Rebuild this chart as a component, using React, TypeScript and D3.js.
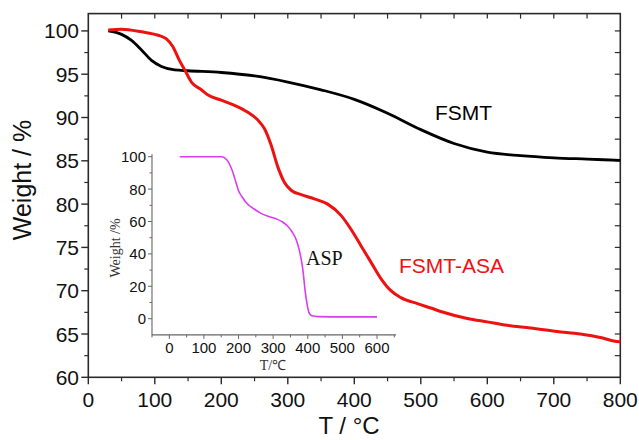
import React from 'react';
import * as d3 from 'd3';

// FSMT (black)
const fsmtT = [30, 50, 65, 80, 95, 110, 130, 150, 200, 250, 300, 350, 400, 450, 500, 550, 600, 650, 700, 750, 800];
const fsmtW = [100.0, 99.6, 98.9, 97.8, 96.6, 95.9, 95.5, 95.4, 95.2, 94.8, 94.1, 93.2, 92.1, 90.5, 88.6, 87.0, 86.0, 85.6, 85.35, 85.2, 85.05];

// FSMT-ASA (red)
const asaT = [30, 50, 80, 105, 117, 127, 137, 145, 155, 170, 180, 200, 220, 240, 255, 265, 275, 285, 295, 305, 320, 340, 360, 380, 395, 410, 425, 440, 455, 470, 495, 515, 530, 570, 600, 630, 665, 705, 740, 770, 790, 800];
const asaW = [100.1, 100.2, 99.9, 99.5, 99.1, 98.2, 96.6, 95.5, 94.1, 93.2, 92.6, 92.0, 91.4, 90.6, 89.7, 88.7, 86.8, 84.3, 82.5, 81.6, 81.1, 80.6, 80.0, 78.7, 77.1, 75.2, 73.3, 71.4, 70.0, 69.2, 68.5, 68.0, 67.6, 66.8, 66.4, 66.0, 65.7, 65.3, 65.0, 64.6, 64.2, 64.1];

// ASP (inset, magenta)
const aspT = [30, 150, 160, 170, 178, 185, 192, 200, 210, 225, 245, 265, 285, 310, 325, 340, 355, 368, 378, 386, 392, 398, 404, 412, 430, 500, 600];
const aspW = [100, 100, 99.3, 97, 93.5, 89.5, 84.5, 79, 75.3, 71, 67.7, 65, 63.2, 61.5, 60, 57.5, 53.5, 48, 40, 30, 18, 9, 3.5, 1.8, 1.3, 1.1, 1.1];

const xTicks = [0, 100, 200, 300, 400, 500, 600, 700, 800];
const yTicks = [60, 65, 70, 75, 80, 85, 90, 95, 100];
const insetXTicks = [0, 100, 200, 300, 400, 500, 600];
const insetYTicks = [0, 20, 40, 60, 80, 100];

export default function App() {
  const W = 639, H = 440;
  const x = d3.scaleLinear().domain([0, 800]).range([88.3, 620.3]);
  const y = d3.scaleLinear().domain([60, 102]).range([377.3, 13.6]);
  const ix = d3.scaleLinear().domain([0, 600]).range([169.3, 377]);
  const iy = d3.scaleLinear().domain([0, 100]).range([318.7, 156.7]);

  const line = d3.line<[number, number]>()
    .x(d => x(d[0])).y(d => y(d[1])).curve(d3.curveMonotoneX);
  const iline = d3.line<[number, number]>()
    .x(d => ix(d[0])).y(d => iy(d[1])).curve(d3.curveMonotoneX);

  const fsmt = fsmtT.map((t, i) => [t, fsmtW[i]] as [number, number]);
  const asa = asaT.map((t, i) => [t, asaW[i]] as [number, number]);
  const asp = aspT.map((t, i) => [t, aspW[i]] as [number, number]);

  const x0 = x(0), x1 = x(800), y0 = y(60), y1 = y(102);
  const axisColor = '#2a2a2a';
  const minorX = d3.range(50, 800, 100);
  const minorY = d3.range(62.5, 101, 5);
  const topTicks = d3.range(50, 800, 50);
  const rightTicks = d3.range(62.5, 101, 2.5);

  const ixMinor = d3.range(-50, 660, 100);
  const iyMinor = d3.range(10, 100, 20);
  const ixL = ix(-50), ixR = ix(655), iyB = iy(-10), iyT = iy(101.5);
  const insetColor = '#666';

  const sans = 'Arial, "Liberation Sans", Helvetica, sans-serif';
  const serif = '"Times New Roman", "Liberation Serif", Times, serif';

  return (
    <svg width={W} height={H} style={{ position: 'absolute', left: 0, top: 0, background: '#fff' }}>
      <rect x={0} y={0} width={W} height={H} fill="#fff" />
      {/* frame */}
      <rect x={x0} y={y1} width={x1 - x0} height={y0 - y1} fill="none" stroke={axisColor} strokeWidth={1.6} />
      {/* bottom ticks */}
      {xTicks.map(t => <line key={'bx' + t} x1={x(t)} x2={x(t)} y1={y0} y2={y0 + 7} stroke={axisColor} strokeWidth={1.4} />)}
      {minorX.map(t => <line key={'bmx' + t} x1={x(t)} x2={x(t)} y1={y0} y2={y0 + 4} stroke={axisColor} strokeWidth={1.2} />)}
      {xTicks.map(t => <text key={'bxl' + t} x={x(t)} y={407} textAnchor="middle" fontFamily={sans} fontSize={21} fill="#111">{t}</text>)}
      {/* top ticks */}
      {topTicks.map(t => <line key={'tx' + t} x1={x(t)} x2={x(t)} y1={y1} y2={y1 + 5} stroke={axisColor} strokeWidth={1.2} />)}
      {/* left ticks */}
      {yTicks.map(t => <line key={'ly' + t} x1={x0 - 7} x2={x0} y1={y(t)} y2={y(t)} stroke={axisColor} strokeWidth={1.4} />)}
      {minorY.map(t => <line key={'lmy' + t} x1={x0 - 4} x2={x0} y1={y(t)} y2={y(t)} stroke={axisColor} strokeWidth={1.2} />)}
      {yTicks.map(t => <text key={'lyl' + t} x={79} y={y(t)} dy="0.36em" textAnchor="end" fontFamily={sans} fontSize={21} fill="#111">{t}</text>)}
      {/* right ticks */}
      {rightTicks.map(t => <line key={'ry' + t} x1={x1 - 5.5} x2={x1} y1={y(t)} y2={y(t)} stroke={axisColor} strokeWidth={1.2} />)}

      {/* axis titles */}
      <text transform={`translate(31,180) rotate(-90)`} textAnchor="middle" fontFamily={sans} fontSize={25} fill="#111">{'Weight  / %'}</text>
      <text x={349} y={434} textAnchor="middle" fontFamily={sans} fontSize={24} fill="#111">{'T / °C'}</text>

      {/* main curves */}
      <path d={line(fsmt) || ''} fill="none" stroke="#000" strokeWidth={2.8} />
      <path d={line(asa) || ''} fill="none" stroke="#ee1111" strokeWidth={3} />

      <text x={435} y={120} fontFamily={sans} fontSize={21} fill="#000">FSMT</text>
      <text x={399} y={273} fontFamily={sans} fontSize={21} fill="#ee1111">FSMT-ASA</text>

      {/* inset axes */}
      <line x1={ixL} x2={ixR} y1={iyB} y2={iyB} stroke={insetColor} strokeWidth={1.1} />
      <line x1={ixL} x2={ixL} y1={iyB} y2={iyT} stroke={insetColor} strokeWidth={1.1} />
      {insetXTicks.map(t => <line key={'ix' + t} x1={ix(t)} x2={ix(t)} y1={iyB} y2={iyB + 4} stroke={insetColor} strokeWidth={1} />)}
      {ixMinor.map(t => <line key={'ixm' + t} x1={ix(t)} x2={ix(t)} y1={iyB} y2={iyB + 2.5} stroke={insetColor} strokeWidth={1} />)}
      {insetXTicks.map(t => <text key={'ixl' + t} x={ix(t)} y={353} textAnchor="middle" fontFamily={sans} fontSize={15} fill="#111">{t}</text>)}
      {insetYTicks.map(t => <line key={'iy' + t} x1={ixL - 4} x2={ixL} y1={iy(t)} y2={iy(t)} stroke={insetColor} strokeWidth={1} />)}
      {iyMinor.map(t => <line key={'iym' + t} x1={ixL - 2.5} x2={ixL} y1={iy(t)} y2={iy(t)} stroke={insetColor} strokeWidth={1} />)}
      {insetYTicks.map(t => <text key={'iyl' + t} x={146} y={iy(t)} dy="0.36em" textAnchor="end" fontFamily={sans} fontSize={15} fill="#111">{t}</text>)}
      <text transform={`translate(120,248) rotate(-90)`} textAnchor="middle" fontFamily={serif} fontSize={14} fill="#333">{'Weight /%'}</text>
      <text x={273} y={370} textAnchor="middle" fontFamily={serif} fontSize={14} fill="#333">{'T/℃'}</text>

      <path d={iline(asp) || ''} fill="none" stroke="#d93df0" strokeWidth={1.6} />
      <text x={306} y={265} fontFamily={serif} fontSize={20} fill="#111">ASP</text>
    </svg>
  );
}
